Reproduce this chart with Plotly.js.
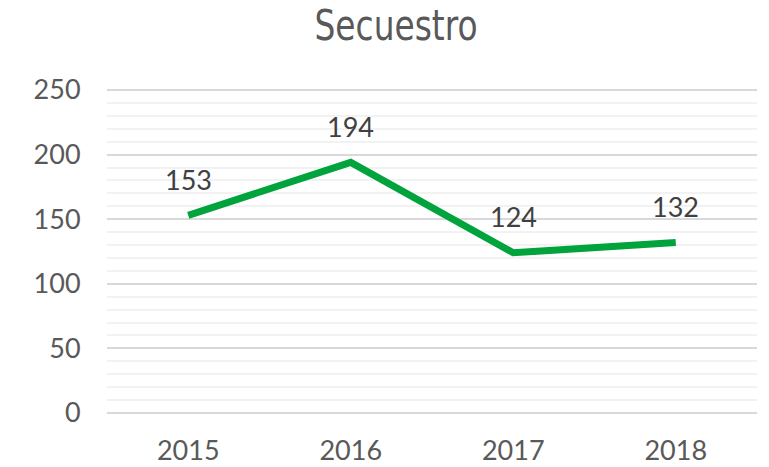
<!DOCTYPE html>
<html><head><meta charset="utf-8">
<script src="https://cdn.plot.ly/plotly-3.0.1.min.js"></script>
<style>html,body{margin:0;padding:0;background:#fff}</style>
</head><body><div id="chart" style="width:769px;height:467px"></div>
<script>
const years = ['2015', '2016', '2017', '2018'];
const secuestro = [153, 194, 124, 132];
const titleText = 'Secuestro';

const font = 'Lato, "Open Sans", sans-serif';
const trace = {
  x: years, y: secuestro, type: 'scatter', mode: 'lines',
  line: {color: '#00a33c', width: 7}, hoverinfo: 'none'
};
const annotations = years.map((yr, i) => ({
  x: i, y: secuestro[i], xref: 'x', yref: 'y', text: String(secuestro[i]), showarrow: false,
  yshift: 36, font: {family: font, size: 27, color: '#404040'}
}));
const layout = {
  width: 769, height: 467,
  margin: {l: 107, r: 12, t: 88, b: 52},
  paper_bgcolor: '#fff', plot_bgcolor: '#fff',
  title: {text: titleText, x: 396 / 769, xanchor: 'center', xref: 'container', y: 1 - 25 / 467, yanchor: 'middle', yref: 'container',
    font: {family: '"DejaVu Sans Condensed", "DejaVu Sans", sans-serif', size: 43, color: '#595959'}},
  xaxis: {type: 'category', categoryarray: years, range: [-0.5, 3.5], autorange: false,
    showgrid: false, zeroline: false, showline: false,
    ticks: 'outside', ticklen: 12, tickcolor: 'rgba(0,0,0,0)', tickfont: {family: font, size: 27, color: '#595959'}},
  yaxis: {range: [-1.55, 251.55], autorange: false, tick0: 0, dtick: 50, showgrid: true, gridcolor: '#d9d9d9', gridwidth: 2,
    zeroline: false, showline: false, ticks: 'outside', ticklen: 20, tickcolor: 'rgba(0,0,0,0)',
    tickfont: {family: font, size: 27, color: '#595959'},
    minor: {tick0: 0, dtick: 10, showgrid: true, gridcolor: '#f2f2f2', gridwidth: 2, ticks: ''}},
  showlegend: false, annotations: annotations
};
Plotly.newPlot('chart', [trace], layout, {staticPlot: true}).then(() => {
  const t = document.querySelector('.gtitle');
  if (!t) return;
  t.setAttribute('textLength', 163);
  t.setAttribute('lengthAdjust', 'spacingAndGlyphs');
});
</script></body></html>
